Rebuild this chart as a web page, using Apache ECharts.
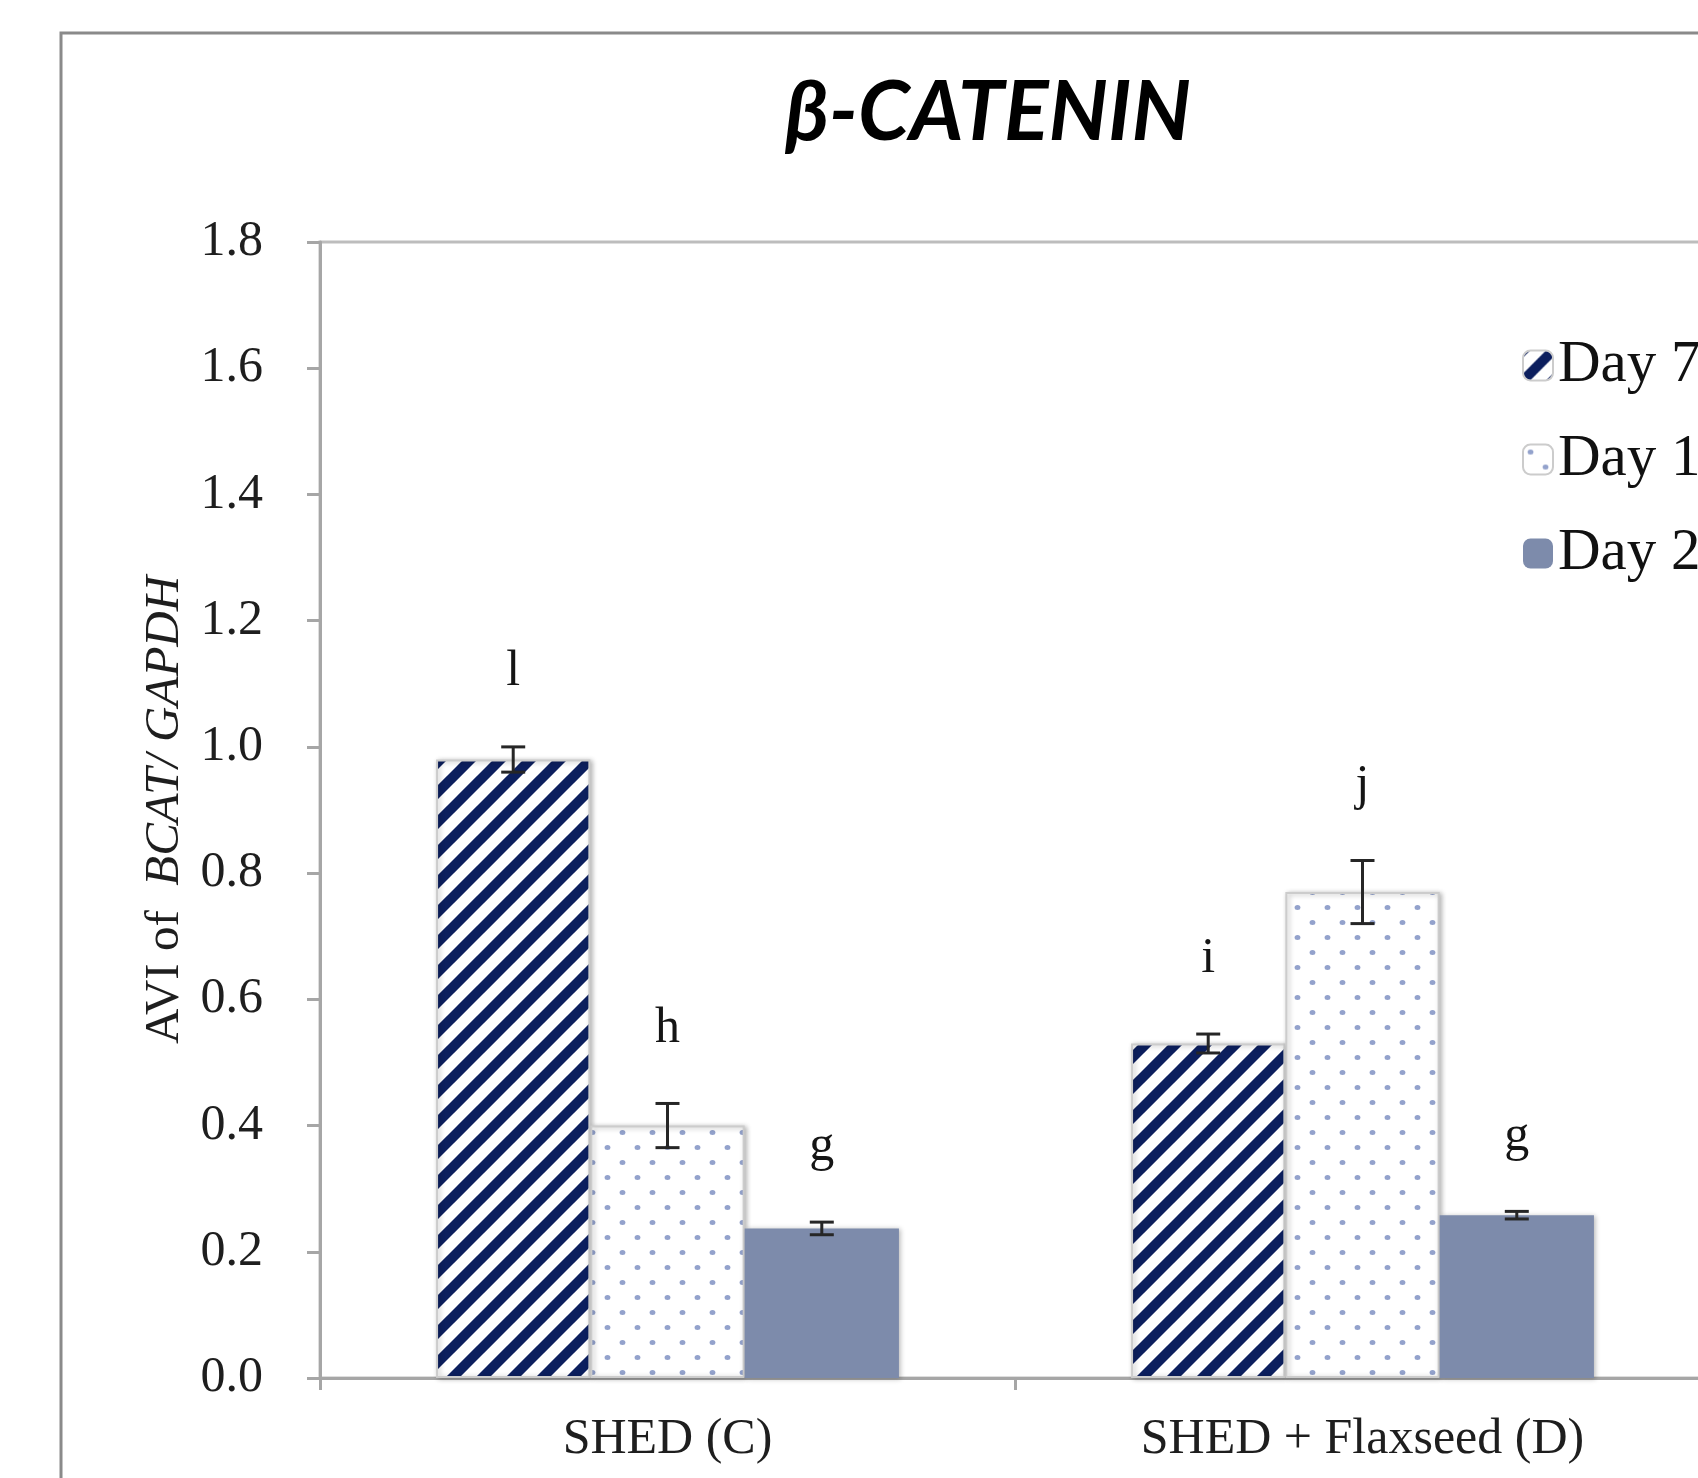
<!DOCTYPE html>
<html>
<head>
<meta charset="utf-8">
<script src="https://cdn.jsdelivr.net/npm/echarts@6/dist/echarts.min.js"></script>
<style>
html,body{margin:0;padding:0;background:#fff;}
#chart{width:1698px;height:1478px;}
</style>
</head>
<body>
<div id="chart"></div>
<script>
// ---- data ----
const categories = ['SHED (C)', 'SHED + Flaxseed (D)'];
const seriesNames = ['Day 7', 'Day 14', 'Day 21'];
const day7 = [0.98, 0.53];
const day14 = [0.40, 0.77];
const day21 = [0.237, 0.258];
const err7 = [0.02, 0.015];
const err14 = [0.035, 0.05];
const err21 = [0.01, 0.006];
const letters7 = ['l', 'i'];
const letters14 = ['h', 'j'];
const letters21 = ['g', 'g'];
const yTickLabels = ['0.0', '0.2', '0.4', '0.6', '0.8', '1.0', '1.2', '1.4', '1.6', '1.8'];

// ---- patterns ----
function hatchPattern() {
  const P = 30;
  const c = document.createElement('canvas');
  c.width = P; c.height = P;
  const g = c.getContext('2d');
  g.fillStyle = '#ffffff';
  g.fillRect(0, 0, P, P);
  g.strokeStyle = '#0c1f5e';
  g.lineWidth = 10;
  for (let k = -2; k <= 2; k++) {
    g.beginPath();
    g.moveTo(k * P - P, 2 * P);
    g.lineTo(k * P + 2 * P, -P);
    g.stroke();
  }
  return c;
}
function dotPattern() {
  const W = 30, H = 30;
  const c = document.createElement('canvas');
  c.width = W; c.height = H;
  const g = c.getContext('2d');
  g.fillStyle = '#ffffff';
  g.fillRect(0, 0, W, H);
  g.fillStyle = '#93a2cc';
  [[7.5, 7.5], [22.5, 22.5]].forEach(function (p) {
    g.beginPath();
    g.ellipse(p[0], p[1], 2.9, 2.5, 0, 0, Math.PI * 2);
    g.fill();
  });
  return c;
}

const barCategoryGap = 0.334;
const serif = '"Liberation Serif", "Times New Roman", serif';

const barColors = [
  { image: hatchPattern(), repeat: 'repeat' },
  { image: dotPattern(), repeat: 'repeat' },
  '#7d8bab'
];
const barValues = [day7, day14, day21];
const barErrors = [err7, err14, err21];
const barLetters = [letters7, letters14, letters21];

function barSeries(idx) {
  return {
    name: seriesNames[idx],
    type: 'bar',
    data: barValues[idx],
    barGap: '0%',
    barCategoryGap: (barCategoryGap * 100) + '%',
    z: 2,
    itemStyle: {
      color: barColors[idx],
      borderColor: idx === 2 ? '#8a96b1' : '#cccccc',
      borderWidth: idx === 2 ? 0 : 2,
      shadowColor: 'rgba(0,0,0,0.28)',
      shadowBlur: 5,
      shadowOffsetX: 2,
      shadowOffsetY: 1
    },
    emphasis: { disabled: true }
  };
}

function errSeries(idx) {
  const vals = barValues[idx], errs = barErrors[idx], labs = barLetters[idx];
  return {
    type: 'custom',
    z: 5,
    silent: true,
    data: vals.map(function (v, i) { return [i, v, errs[i]]; }),
    renderItem: function (params, api) {
      const ci = api.value(0), v = api.value(1), e = api.value(2);
      const center = api.coord([ci, v]);
      const catW = api.size([1, 0])[0];
      const barW = catW * (1 - barCategoryGap) / 3;
      const x = center[0] + (idx - 1) * barW;
      const yTop = api.coord([ci, v + e])[1];
      const yBot = api.coord([ci, v - e])[1];
      const cap = 12;
      const st = { stroke: '#262626', lineWidth: 3 };
      return {
        type: 'group',
        children: [
          { type: 'line', shape: { x1: x, y1: yTop, x2: x, y2: yBot }, style: st },
          { type: 'line', shape: { x1: x - cap, y1: yTop, x2: x + cap, y2: yTop }, style: st },
          { type: 'line', shape: { x1: x - cap, y1: yBot, x2: x + cap, y2: yBot }, style: st },
          {
            type: 'text', x: x, y: yTop - 50,
            style: {
              text: labs[params.dataIndex], fill: '#151515',
              font: '50px ' + serif, align: 'center', verticalAlign: 'bottom'
            }
          }
        ]
      };
    }
  };
}

const chart = echarts.init(document.getElementById('chart'), null, { renderer: 'canvas' });
chart.setOption({
  animation: false,
  backgroundColor: '#ffffff',
  title: {
    text: 'β-CATENIN',
    left: 988,
    top: 72,
    textAlign: 'center',
    padding: 0,
    textStyle: {
      fontFamily: 'Lato, "Open Sans", sans-serif',
      fontWeight: 'bold',
      fontStyle: 'italic',
      fontSize: 83,
      color: '#000000'
    }
  },
  graphic: [{
    type: 'rect',
    shape: { x: 61, y: 33, width: 3000, height: 3000 },
    style: { fill: 'none', stroke: '#8a8a8a', lineWidth: 3 },
    z: 0,
    silent: true
  }],
  legend: {
    orient: 'vertical',
    left: 1522,
    top: 336,
    itemWidth: 30,
    itemHeight: 30,
    itemGap: 35,
    padding: 0,
    data: seriesNames,
    selectedMode: false,
    textStyle: { fontFamily: serif, fontSize: 59, color: '#111111', lineHeight: 59 }
  },
  grid: {
    left: 320,
    top: 242,
    width: 1390,
    height: 1136,
    outerBoundsMode: 'none',
    show: true,
    borderColor: '#bdbdbd',
    borderWidth: 3,
    backgroundColor: 'transparent'
  },
  xAxis: {
    type: 'category',
    data: categories,
    axisLine: { lineStyle: { color: '#a6a6a6', width: 3 } },
    axisTick: { show: true, length: 12, interval: 0, lineStyle: { color: '#a6a6a6', width: 3 } },
    axisLabel: { fontFamily: serif, fontSize: 50, color: '#1e1e1e', margin: 37 },
    splitLine: { show: false }
  },
  yAxis: {
    type: 'value',
    min: 0,
    max: 1.8,
    interval: 0.2,
    name: '{n|AVI of  }{i|BCAT/ GAPDH}',
    nameLocation: 'middle',
    nameRotate: 90,
    nameGap: 128,
    nameTextStyle: {
      rich: {
        n: { fontFamily: serif, fontSize: 49, color: '#1e1e1e' },
        i: { fontFamily: serif, fontSize: 49, fontStyle: 'italic', color: '#1e1e1e' }
      }
    },
    axisLine: { show: true, lineStyle: { color: '#a6a6a6', width: 3 } },
    axisTick: { show: true, length: 13, lineStyle: { color: '#a6a6a6', width: 3 } },
    axisLabel: {
      fontFamily: serif, fontSize: 50, color: '#1e1e1e', margin: 57,
      formatter: function (v) { return yTickLabels[Math.round(v / 0.2)]; }
    },
    splitLine: { show: false }
  },
  series: [barSeries(0), barSeries(1), barSeries(2), errSeries(0), errSeries(1), errSeries(2)]
});
</script>
</body>
</html>
